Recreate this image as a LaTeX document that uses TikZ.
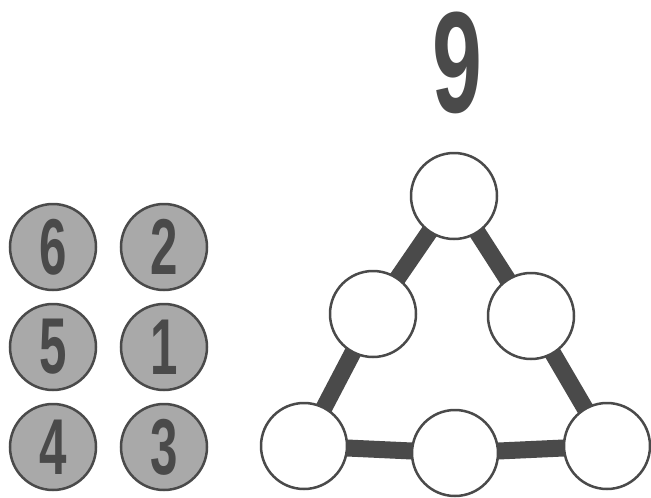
\documentclass[tikz,border=0pt]{standalone}
\usepackage{fontspec}
\setmainfont{Liberation Sans}
\usepackage{graphicx}
\usetikzlibrary{positioning,backgrounds}

\definecolor{ink}{HTML}{4A4A4A}
\definecolor{token}{HTML}{A9A9A9}
\newcommand{\stencil}[1]{\scalebox{1.12}[1.8]{#1}}

\begin{document}
\begin{tikzpicture}[x=1pt, y=-1pt, node distance=14pt and 25pt,
    ball/.style={circle, draw=ink, line width=2.5pt, fill=token, minimum size=86pt,
      inner sep=0pt, outer sep=0pt, text=ink, font=\bfseries\fontsize{44}{44}\selectfont},
    slot/.style={circle, draw=ink, line width=2.5pt, fill=white, minimum size=86pt,
      inner sep=0pt, outer sep=0pt},
    link/.style={draw=ink, line width=17pt}]
  \useasboundingbox (0,0) rectangle (651,498);

  % Les jetons a placer
  \node[ball] (b6) at (53,247) {\stencil{6}};
  \node[ball, right=of b6] (b2) {\stencil{2}};
  \node[ball, below=of b6] (b5) {\stencil{5}};
  \node[ball, below=of b2] (b1) {\stencil{1}};
  \node[ball, below=of b5] (b4) {\stencil{4}};
  \node[ball, below=of b1] (b3) {\stencil{3}};

  % La somme a obtenir
  \node[text=ink, inner sep=0pt, font=\bfseries\fontsize{80}{80}\selectfont] (goal) at (457,63) {\stencil{9}};

  % Les cases du triangle
  \node[slot] (top) at (454,196) {};
  \node[slot] (ml) at (373,314) {};
  \node[slot] (mr) at (531,316) {};
  \node[slot] (bl) at (304,446) {};
  \node[slot] (bm) at (455,453) {};
  \node[slot] (br) at (607,446) {};

  % Les cotes du triangle
  \begin{scope}[on background layer]
    \draw[link] (top.center) -- (ml.center) -- (bl.center);
    \draw[link] (top.center) -- (mr.center) -- (br.center);
    \draw[link] (bl.center) -- (bm.center) -- (br.center);
  \end{scope}
\end{tikzpicture}
\end{document}
